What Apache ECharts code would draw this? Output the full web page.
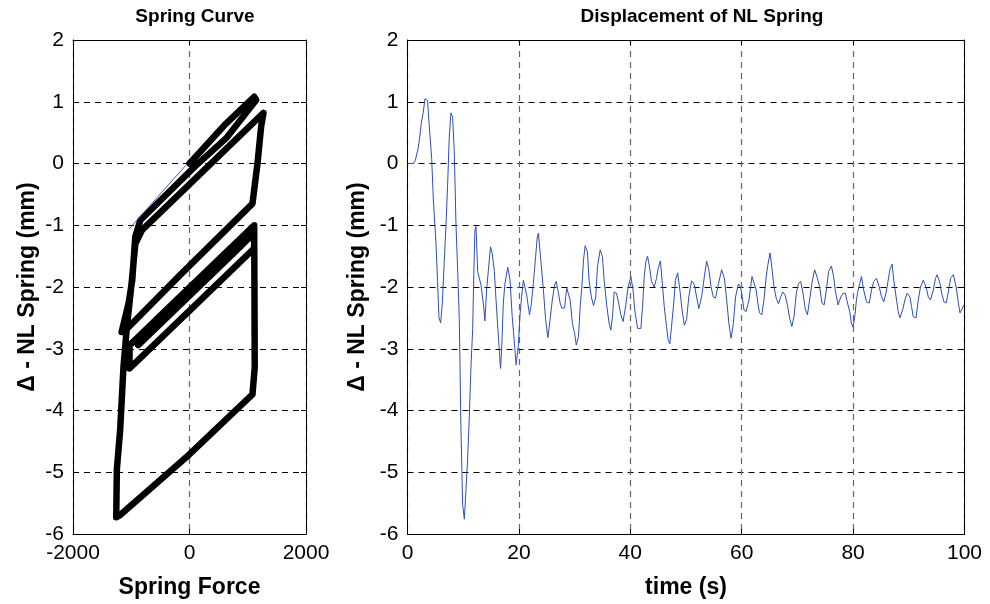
<!DOCTYPE html>
<html><head><meta charset="utf-8">
<script src="https://cdn.jsdelivr.net/npm/echarts@6/dist/echarts.min.js"></script>
<style>html,body{margin:0;padding:0;background:#fff}#c{width:990px;height:604px}</style>
</head><body><div id="c"></div>
<script>
// ---- Left panel: spring curve (force vs displacement), path in drawing order ----
const springForce = [0,600,1110,1145,640,90,-845,-931,-983,-1045,-1165,-1120,-155,1081,1167,1230,1270,1255,
  -816,-930,-990,-1080,-1133,-1190,-1247,-1258,-1200,-12,1081,1120,1115,1110,
  -595,725,-1030,-1030,774,-953,576,-73,1110,1110,-749,252,-221,153,-881,890,-177,813,-617,65,
  -463,340,-584,703,153,615,-859,406,-529,263,-232,615,-45,461,-760,208,-287,340,-342,758,-144,65,
  -551,252,-342,461,-166,527,-166,43,-562,340,-133,307,-111,560,-397,43,-397,274,-78,373,-133,373,-342,-166];
const springDisp = [0,0.62,1.08,1.03,0.42,-0.05,-0.92,-1.19,-1.89,-2.26,-2.73,-2.72,-1.8,-0.65,0,0.6,0.82,0.8,
  -1.08,-1.3,-1.9,-2.7,-3.29,-4.31,-4.95,-5.73,-5.7,-4.72,-3.74,-3.3,-2.0,-1.0,
  -2.55,-1.35,-2.945,-3.32,-1.68,-3.25,-1.86,-2.45,-1.375,-1.13,-2.82,-1.91,-2.34,-2.0,-2.94,-1.33,-2.3,-1.4,-2.7,-2.08,
  -2.56,-1.83,-2.67,-1.5,-2.0,-1.58,-2.92,-1.77,-2.62,-1.9,-2.35,-1.58,-2.18,-1.72,-2.83,-1.95,-2.4,-1.83,-2.45,-1.45,-2.27,-2.08,
  -2.64,-1.91,-2.45,-1.72,-2.29,-1.66,-2.29,-2.1,-2.65,-1.83,-2.26,-1.86,-2.24,-1.63,-2.5,-2.1,-2.5,-1.89,-2.21,-1.8,-2.26,-1.8,-2.45,-2.29];
// thin blue trace visible in the left panel
const thinForce = [-1037,-64];
const thinDisp = [-1.06,-0.03];

// ---- Right panel: displacement time history ----
const dispTime = [0,1.05,1.4,1.9,2.2,2.5,2.8,3.14,3.3,3.6,3.86,4.34,4.64,5.1,5.4,5.65,5.95,6.25,6.6,6.9,7.2,7.5,7.8,8.1,8.4,8.7,9.0,9.3,9.6,9.9,10.2,10.5,10.8,11.1,11.4,11.7,11.9,12.1,12.3,12.6,13.2,13.6,13.9,14.2,14.5,14.9,15.2,15.6,15.8,16.2,16.7,16.9,17.2,17.5,18.0,18.4,18.8,19.2,19.5,19.9,20.2,20.5,20.8,21.0,21.4,21.9,22.2,22.6,23.0,23.3,23.5,23.8,24.4,24.8,25.2,25.6,26.0,26.4,26.7,27.1,27.4,27.7,28.2,28.4,28.6,28.9,29.2,29.6,30.0,30.3,30.7,31.0,31.3,31.6,31.9,32.3,32.6,33.0,33.4,33.8,34.1,34.6,35.0,35.3,35.8,36.2,36.5,36.8,37.1,37.5,37.8,38.3,38.7,39.2,39.6,40.1,40.5,40.8,41.3,41.9,42.2,42.5,42.8,43.1,43.5,43.8,44.3,44.7,45.0,45.4,45.7,46.1,46.5,46.8,47.1,47.4,47.8,48.1,48.5,48.9,49.3,49.7,50.1,50.5,51.0,51.5,51.9,52.3,52.8,53.3,53.7,54.1,54.5,54.9,55.3,55.8,56.4,56.9,57.3,57.7,58.1,58.5,58.9,59.4,59.8,60.1,60.4,60.8,61.3,61.6,61.85,62.2,62.6,62.9,63.2,63.6,64.0,64.4,64.7,65.1,65.4,65.8,66.2,66.6,67.0,67.4,67.8,68.2,68.6,69.0,69.4,69.8,70.2,70.6,71.0,71.4,71.8,72.2,72.6,73.1,73.6,74.0,74.4,74.8,75.2,75.6,76.1,76.5,76.8,77.3,77.8,78.2,78.6,79.0,79.4,79.7,80.0,80.3,80.6,80.9,81.2,81.5,81.9,82.4,82.9,83.3,83.7,84.2,84.7,85.1,85.5,85.9,86.3,86.6,87.0,87.3,87.8,88.1,88.4,88.9,89.3,89.7,90.2,90.5,90.8,91.3,91.7,92.1,92.6,93.1,93.5,93.9,94.4,94.8,95.1,95.6,95.9,96.3,96.7,97.1,97.5,98.0,98.5,98.9,99.2,99.5,99.9,100];
const dispValue = [0,0,0.05,0.24,0.43,0.67,0.81,1.05,1.07,1.02,0.67,0.08,-0.59,-1.27,-1.91,-2.5,-2.58,-2.26,-1.59,-1.02,-0.35,0.43,0.82,0.75,0.19,-0.97,-1.72,-2.53,-4.31,-5.52,-5.76,-5.28,-4.77,-4.09,-3.28,-2.69,-1.8,-1.08,-1.02,-1.75,-1.97,-2.26,-2.55,-2.05,-1.75,-1.35,-1.45,-1.75,-2.07,-2.64,-3.32,-3.02,-2.26,-1.94,-1.68,-1.88,-2.48,-2.91,-3.26,-2.95,-2.45,-2.15,-1.89,-1.86,-2.13,-2.45,-2.3,-1.94,-1.51,-1.19,-1.13,-1.43,-2.05,-2.53,-2.82,-2.53,-2.21,-1.97,-1.91,-2.1,-2.26,-2.34,-2.34,-2.16,-2.02,-2.0,-2.21,-2.59,-2.75,-2.94,-2.8,-2.32,-2.0,-1.56,-1.33,-1.43,-1.89,-2.16,-2.3,-2.16,-1.67,-1.4,-1.51,-1.89,-2.32,-2.59,-2.7,-2.48,-2.08,-2.1,-2.21,-2.45,-2.56,-2.29,-2.0,-1.83,-2.05,-2.37,-2.67,-2.67,-2.32,-1.83,-1.59,-1.5,-1.7,-1.91,-2.0,-1.86,-1.7,-1.58,-1.89,-2.32,-2.64,-2.86,-2.92,-2.64,-2.26,-1.89,-1.77,-2.05,-2.37,-2.62,-2.53,-2.16,-1.9,-1.96,-2.16,-2.35,-2.16,-1.83,-1.58,-1.72,-2.0,-2.16,-2.18,-1.96,-1.72,-1.86,-2.21,-2.59,-2.83,-2.59,-2.16,-1.95,-2.0,-2.16,-2.37,-2.4,-2.21,-2.0,-1.83,-1.84,-2.05,-2.26,-2.42,-2.45,-2.21,-1.83,-1.64,-1.45,-1.67,-2.0,-2.18,-2.27,-2.16,-2.08,-2.13,-2.29,-2.5,-2.64,-2.48,-2.1,-1.94,-1.91,-2.1,-2.35,-2.45,-2.21,-1.94,-1.72,-1.86,-2.0,-2.26,-2.29,-2.05,-1.75,-1.66,-1.83,-2.05,-2.29,-2.16,-2.1,-2.1,-2.26,-2.4,-2.59,-2.65,-2.48,-2.21,-2.05,-1.94,-1.83,-2.05,-2.24,-2.26,-2.05,-1.91,-1.86,-2.0,-2.16,-2.24,-2.1,-1.89,-1.72,-1.63,-1.89,-2.21,-2.4,-2.5,-2.37,-2.21,-2.1,-2.16,-2.32,-2.48,-2.5,-2.21,-2.0,-1.89,-2.0,-2.16,-2.21,-2.05,-1.86,-1.8,-1.94,-2.1,-2.24,-2.26,-2.08,-1.86,-1.8,-2.0,-2.26,-2.42,-2.45,-2.29,-2.29];

// ---- Axis / label text ----
const leftTitle = 'Spring Curve';
const rightTitle = 'Displacement of NL Spring';
const leftXName = 'Spring Force';
const rightXName = 'time (s)';
const yName = '\u0394 - NL Spring (mm)';

const FONT = '"Liberation Sans", Arial, Helvetica, sans-serif';
const zip = (a, b) => a.map((v, i) => [v, b[i]]);

function makeX(gi, min, max, interval, name, top) {
  return {
    type: 'value', gridIndex: gi, min, max, interval, position: top ? 'top' : 'bottom',
    name: top ? '' : name, nameLocation: 'middle', nameGap: 42,
    nameTextStyle: { fontFamily: FONT, fontWeight: 'bold', fontSize: 23, color: '#000' },
    axisLine: { show: true, onZero: false, lineStyle: { color: '#000', width: 1 } },
    axisTick: { show: true, inside: true, length: 5, lineStyle: { color: '#000' } },
    axisLabel: { show: !top, margin: 9, fontFamily: FONT, fontSize: 21, color: '#000',
      formatter: v => String(v) },
    splitLine: { show: !top, lineStyle: { color: '#666', type: [6, 5], width: 1.2 } }
  };
}
function makeY(gi, top) {
  return {
    type: 'value', gridIndex: gi, min: -6, max: 2, interval: 1, position: top ? 'right' : 'left',
    name: top ? '' : yName, nameLocation: 'middle', nameGap: 34, nameRotate: 90,
    nameTextStyle: { fontFamily: FONT, fontWeight: 'bold', fontSize: 23, color: '#000' },
    axisLine: { show: true, onZero: false, lineStyle: { color: '#000', width: 1 } },
    axisTick: { show: true, inside: true, length: 5, lineStyle: { color: '#000' } },
    axisLabel: { show: !top, margin: 9, fontFamily: FONT, fontSize: 21, color: '#000',
      formatter: v => String(v) },
    splitLine: { show: !top, lineStyle: { color: '#000', type: [6, 5], width: 1 } }
  };
}

const chart = echarts.init(document.getElementById('c'), null, { renderer: 'canvas' });
chart.setOption({
  backgroundColor: '#fff',
  animation: false,
  title: [
    { text: leftTitle, left: 190, top: 2, textAlign: 'center',
      textStyle: { fontFamily: FONT, fontWeight: 'bold', fontSize: 19, color: '#000' } },
    { text: rightTitle, left: 697, top: 2, textAlign: 'center',
      textStyle: { fontFamily: FONT, fontWeight: 'bold', fontSize: 19, color: '#000' } }
  ],
  grid: [
    { left: 73, top: 40, width: 233, height: 494, containLabel: false },
    { left: 407.5, top: 40, width: 557, height: 494, containLabel: false }
  ],
  xAxis: [
    makeX(0, -2000, 2000, 2000, leftXName, false),
    makeX(0, -2000, 2000, 2000, leftXName, true),
    makeX(1, 0, 100, 20, rightXName, false),
    makeX(1, 0, 100, 20, rightXName, true)
  ],
  yAxis: [makeY(0, false), makeY(0, true), makeY(1, false), makeY(1, true)],
  series: [
    { type: 'line', xAxisIndex: 0, yAxisIndex: 0, data: zip(springForce, springDisp),
      showSymbol: false, symbol: 'none', silent: true,
      lineStyle: { color: '#000', width: 6.5, cap: 'round', join: 'round' } },
    { type: 'line', xAxisIndex: 0, yAxisIndex: 0, data: zip(thinForce, thinDisp), z: 3,
      showSymbol: false, symbol: 'none', silent: true,
      lineStyle: { color: '#3a5cc0', width: 1 } },
    { type: 'line', xAxisIndex: 2, yAxisIndex: 2, data: zip(dispTime, dispValue),
      showSymbol: false, symbol: 'none', silent: true,
      lineStyle: { color: '#2f4fae', width: 1 } }
  ]
});
</script></body></html>
